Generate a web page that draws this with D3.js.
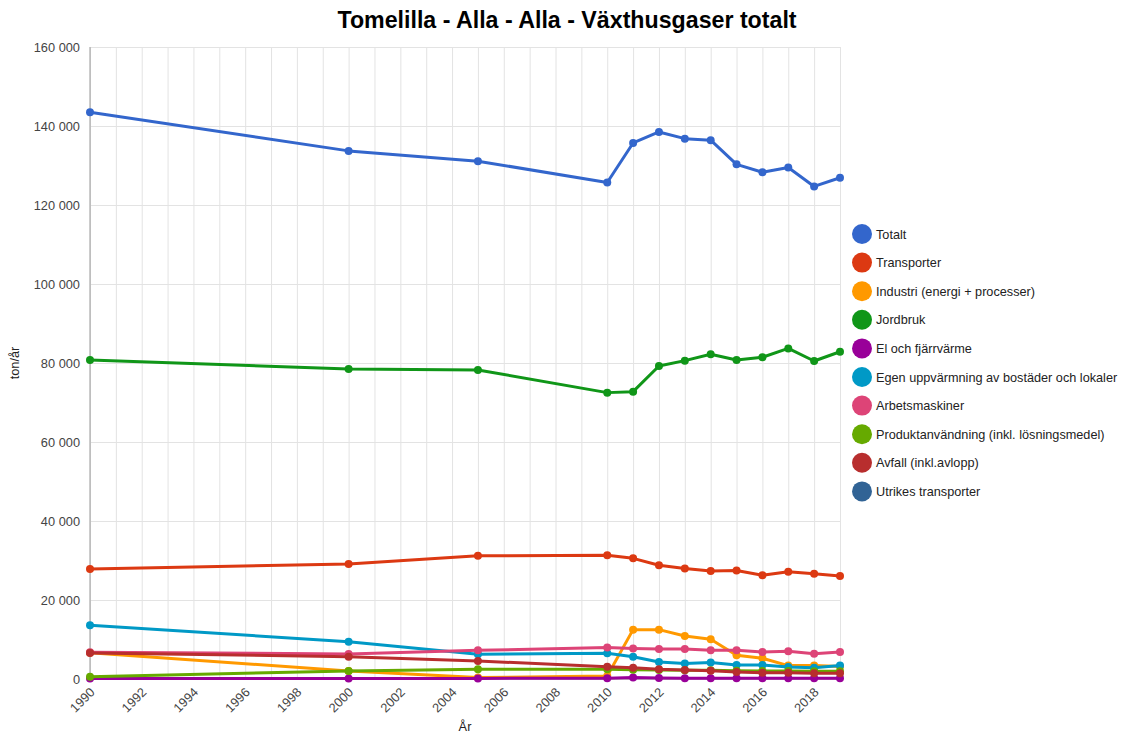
<!DOCTYPE html>
<html>
<head>
<meta charset="utf-8">
<script src="https://cdn.jsdelivr.net/npm/d3@7"></script>
<style>
  body { margin: 0; background: #fff; font-family: "Liberation Sans", Arial, sans-serif; }
  .grid line { stroke: #e3e3e3; }
  .grid path { display: none; }
</style>
</head>
<body>
<div id="chart"></div>
<script>
// Years on the x axis
var years = [1990, 2000, 2005, 2010, 2011, 2012, 2013, 2014, 2015, 2016, 2017, 2018, 2019];

// Series values, ton/år
var totalt        = [143500, 133700, 131100, 125700, 135700, 138500, 136800, 136400, 130300, 128300, 129500, 124700, 126900];
var transporter   = [27850, 29100, 31200, 31300, 30550, 28800, 28000, 27350, 27450, 26250, 27150, 26650, 26100];
var industri      = [6650, 2050, 350, 750, 12500, 12500, 10900, 10050, 6000, 5250, 3400, 3400, 3150];
var jordbruk      = [80750, 78500, 78250, 72500, 72750, 79250, 80600, 82200, 80750, 81450, 83700, 80500, 82850];
var elFjarrvarme  = [100, 100, 150, 200, 400, 250, 200, 200, 200, 200, 200, 200, 200];
var egenUppv      = [13600, 9450, 6250, 6500, 5650, 4300, 3950, 4200, 3550, 3550, 3050, 2850, 3400];
var arbetsmask    = [6800, 6350, 7250, 8000, 7750, 7600, 7600, 7250, 7250, 6850, 7000, 6400, 6850];
var produktanv    = [600, 2000, 2450, 2450, 2350, 2300, 2200, 2200, 2100, 2050, 2000, 1950, 1950];
var avfall        = [6600, 5650, 4550, 3100, 2850, 2450, 2300, 2100, 1800, 1600, 1600, 1450, 1450];
var utrikes       = [];

var seriesNames = ["Totalt", "Transporter", "Industri (energi + processer)", "Jordbruk",
  "El och fjärrvärme", "Egen uppvärmning av bostäder och lokaler", "Arbetsmaskiner",
  "Produktanvändning (inkl. lösningsmedel)", "Avfall (inkl.avlopp)", "Utrikes transporter"];
var seriesValues = [totalt, transporter, industri, jordbruk, elFjarrvarme, egenUppv,
  arbetsmask, produktanv, avfall, utrikes];
var colors = ["#3366cc", "#dc3912", "#ff9900", "#109618", "#990099", "#0099c6",
  "#dd4477", "#66aa00", "#b82e2e", "#316395"];

var yTicks = [0, 20000, 40000, 60000, 80000, 100000, 120000, 140000, 160000];
var xTickYears = d3.range(1990, 2019, 2);

var W = 1125, H = 736;
var margin = {left: 90, right: 285, top: 47, bottom: 57};
var width = W - margin.left - margin.right;   // 750
var height = H - margin.top - margin.bottom;  // 632

var svg = d3.select("#chart").append("svg")
  .attr("width", W).attr("height", H);

var g = svg.append("g")
  .attr("transform", "translate(" + margin.left + "," + margin.top + ")");

var x = d3.scaleLinear().domain([1990, 2019]).range([0, width]);
var y = d3.scaleLinear().domain([0, 160000]).range([height, 0]);

var fmt = function(v) { return d3.format(",")(v).replace(/,/g, " "); };

// title
svg.append("text")
  .attr("x", 567).attr("y", 28)
  .attr("text-anchor", "middle")
  .style("font-size", "23.2px").style("font-weight", "bold").attr("fill", "#000")
  .text("Tomelilla - Alla - Alla - Växthusgaser totalt");

// vertical gridlines, one per year
g.append("g").attr("class", "grid")
  .attr("transform", "translate(0," + height + ")")
  .call(d3.axisBottom(x).tickValues(d3.range(1990, 2020)).tickSize(-height).tickFormat(""));

// horizontal gridlines
g.append("g").attr("class", "grid")
  .call(d3.axisLeft(y).tickValues(yTicks).tickSize(-width).tickFormat(""));

// y axis labels
var yAxis = g.append("g")
  .call(d3.axisLeft(y).tickValues(yTicks).tickSize(0).tickPadding(10).tickFormat(fmt));
yAxis.select(".domain").remove();
yAxis.selectAll("text").attr("fill", "#444").style("font-size", "12.8px")
  .style("font-family", "'Liberation Sans', Arial, sans-serif");

// axis lines
g.append("line").attr("x1", 0).attr("x2", 0).attr("y1", 0).attr("y2", height)
  .attr("stroke", "#999");
g.append("line").attr("x1", 0).attr("x2", width).attr("y1", height).attr("y2", height)
  .attr("stroke", "#999");

// x axis labels
var xAxis = g.append("g")
  .attr("transform", "translate(0," + height + ")")
  .call(d3.axisBottom(x).tickValues(xTickYears).tickSize(0).tickPadding(0).tickFormat(d3.format("d")));
xAxis.select(".domain").remove();
xAxis.selectAll("text")
  .attr("fill", "#444").style("font-size", "12.8px")
  .style("font-family", "'Liberation Sans', Arial, sans-serif")
  .attr("text-anchor", "end")
  .attr("dy", "0")
  .attr("transform", function() { return "translate(5,14) rotate(-45)"; });

// axis titles
svg.append("text")
  .attr("x", 465).attr("y", 731)
  .attr("text-anchor", "middle")
  .style("font-size", "12.8px").attr("fill", "#222")
  .text("År");
svg.append("text")
  .attr("transform", "translate(19," + (margin.top + height / 2) + ") rotate(-90)")
  .attr("text-anchor", "middle")
  .style("font-size", "12.8px").attr("fill", "#222")
  .text("ton/år");

// lines and points
var line = d3.line()
  .x(function(d) { return x(d.year); })
  .y(function(d) { return y(d.value); });

seriesValues.forEach(function(vals, i) {
  var data = vals.map(function(v, j) { return {year: years[j], value: v}; });
  if (!data.length) return;
  var sg = g.append("g");
  sg.append("path").datum(data)
    .attr("fill", "none")
    .attr("stroke", colors[i])
    .attr("stroke-width", 3)
    .attr("stroke-linejoin", "round")
    .attr("d", line);
  sg.selectAll("circle").data(data).enter().append("circle")
    .attr("cx", function(d) { return x(d.year); })
    .attr("cy", function(d) { return y(d.value); })
    .attr("r", 4)
    .attr("fill", colors[i]);
});

// legend
var legend = svg.append("g").attr("transform", "translate(862,234)");
seriesNames.forEach(function(name, i) {
  var item = legend.append("g").attr("transform", "translate(0," + (i * 28.6) + ")");
  item.append("circle").attr("r", 10).attr("fill", colors[i]);
  item.append("text").attr("x", 14).attr("y", 4.5)
    .style("font-size", "12.7px").attr("fill", "#222")
    .text(name);
});
</script>
</body>
</html>
